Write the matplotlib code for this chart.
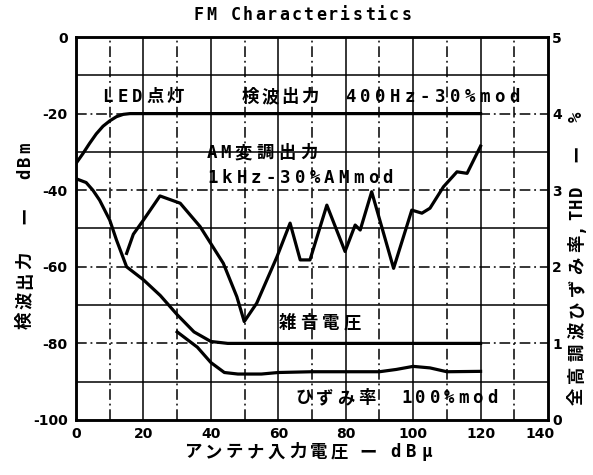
import numpy as np
import matplotlib
matplotlib.use('Agg')
import matplotlib.pyplot as plt
import matplotlib.transforms as mtransforms

plt.rcParams['font.family'] = ['Noto Sans CJK JP', 'DejaVu Sans']
plt.rcParams['axes.unicode_minus'] = False

# 検波出力 400Hz-30%mod  (dBm)
det_x = [0, 2, 4, 6, 8, 10, 12, 14, 16, 120]
det_y = [-33, -30.5, -27.8, -25.3, -23.3, -21.9, -20.8, -20.2, -20, -20]

# 雑音電圧 (dBm)
noise_x = [0, 3, 5, 7, 10, 12, 15, 20, 25, 30, 35, 40, 45, 120]
noise_y = [-37, -38, -40, -42.6, -47.8, -53, -60, -63.4, -67.5, -72.5, -77, -79.5, -80, -80]

# AM変調出力 1kHz-30%AMmod (dBm)
am_x = [15, 17, 20, 24.9, 30.9, 36.8, 43.7, 47.7, 49.9, 53.6, 59.6, 63.5, 66.5, 69.4,
        74.4, 79.8, 82.8, 84.3, 87.7, 94.2, 99.6, 102.6, 105, 109, 113, 116, 120]
am_y = [-56.5, -51.5, -47.8, -41.5, -43.4, -49.5, -59.1, -67.8, -74.3, -69.5, -57.4,
        -48.6, -58.2, -58.2, -43.9, -56, -49.1, -50.4, -40.4, -60.4, -45.2, -46, -44.7,
        -39.1, -35.2, -35.6, -28.5]

# ひずみ率 100%mod (%)
thd_x = [30, 33, 36, 40, 44, 48, 55, 60, 70, 80, 90, 95, 100, 105, 110, 120]
thd_y = [1.15, 1.05, 0.95, 0.75, 0.62, 0.6, 0.6, 0.62, 0.63, 0.63, 0.63, 0.66, 0.7, 0.68, 0.63, 0.635]

x_ticks = [0, 20, 40, 60, 80, 100, 120, 140]
y_ticks = [-100, -80, -60, -40, -20, 0]
r_ticks = [0, 1, 2, 3, 4, 5]

fig = plt.figure(figsize=(5.93, 4.75), dpi=100)
ax = fig.add_axes([0.1282, 0.1158, 0.7959, 0.8063])
ax.set_xlim(0, 140)
ax.set_ylim(-100, 0)

dashdot = (0, (7, 2.5, 1.2, 2.5))
for gx in range(10, 140, 10):
    ls = '-' if gx % 20 == 0 else dashdot
    ax.axvline(gx, color='black', lw=1.1, ls=ls, zorder=1)
for gy in range(-90, 0, 10):
    ls = dashdot if gy % 20 == 0 else '-'
    ax.axhline(gy, color='black', lw=1.1, ls=ls, zorder=1)

lw = 2.3
ax.plot(det_x, det_y, color='black', lw=lw, zorder=3)
ax.plot(noise_x, noise_y, color='black', lw=lw, zorder=3)
ax.plot(am_x, am_y, color='black', lw=lw, zorder=3)

ax2 = ax.twinx()
ax2.set_ylim(0, 5)
ax2.plot(thd_x, thd_y, color='black', lw=lw, zorder=3)

ax.set_xticks(x_ticks)
ax.set_xticklabels([str(v) for v in x_ticks])
ax.set_yticks(y_ticks)
ax.set_yticklabels([str(v) for v in y_ticks])
ax2.set_yticks(r_ticks)
ax2.set_yticklabels([str(v) for v in r_ticks])
ax.tick_params(axis='x', length=0, pad=5, labelsize=10)
ax.tick_params(axis='y', length=0, pad=6, labelsize=10)
ax2.tick_params(axis='y', length=0, pad=3, labelsize=10)
for t in ax.get_xticklabels() + ax.get_yticklabels() + ax2.get_yticklabels():
    t.set_fontweight('bold')
    t.set_family('DejaVu Sans')
# the last x label sits a little left of its grid line in the original
last = ax.get_xticklabels()[-1]
last.set_transform(last.get_transform() + mtransforms.ScaledTranslation(-0.08, 0, fig.dpi_scale_trans))
for a in (ax, ax2):
    for sp in a.spines.values():
        sp.set_linewidth(1.8)


def spaced(x, y, s, adv, cjk=None, gap=None, coords='data', size=12, rot=0):
    # typewriter style text: each glyph placed at a fixed pixel advance
    cjk = cjk or adv
    gap = gap or adv
    pos = 0.0
    for ch in s:
        if ch == ' ':
            pos += gap
            continue
        w = cjk if ord(ch) > 0x2000 else adv
        d = (pos + w / 2) * 0.72
        off = (d, 0) if rot == 0 else (0, d)
        ax.annotate(ch, (x, y), xycoords=coords, xytext=off, textcoords='offset points',
                    ha='center', va='center', rotation=rot, fontsize=size,
                    fontweight='bold', family=['DejaVu Sans Mono', 'Noto Sans CJK JP'],
                    zorder=5, annotation_clip=False)
        pos += w


spaced(0.325, 0.968, 'FM Characteristics', 12.2, coords='figure fraction', size=12)
spaced(7.1, -15.7, 'LED点灯', 15, cjk=20, size=12.5)
spaced(48.7, -15.7, '検波出力 400Hz-30%mod', 14.9, cjk=20, gap=23, size=12.5)
spaced(38.3, -30.3, 'AM変調出力', 13.5, cjk=22, size=12.5)
spaced(38.3, -36.8, '1kHz-30%AMmod', 14.6, size=12.5)
spaced(59.6, -74.7, '雑音電圧', 21.5, cjk=21.5, size=12.5)
spaced(64.4, -94.3, 'ひずみ率 100%mod', 14.3, cjk=21, gap=22, size=12.5)

spaced(0.307, 0.048, 'アンテナ入力電圧 ー dBμ', 16, cjk=21, gap=8, coords='figure fraction', size=12.5)
spaced(0.042, 0.305, '検波出力 ー dBm', 13, cjk=20, gap=25, coords='figure fraction', size=12.5, rot=90)
spaced(0.973, 0.143, '全高調波ひずみ率,THD ー %', 12, cjk=21.8, gap=20, coords='figure fraction', size=12.5, rot=90)

fig.savefig('out.png', dpi=100, facecolor='white')
